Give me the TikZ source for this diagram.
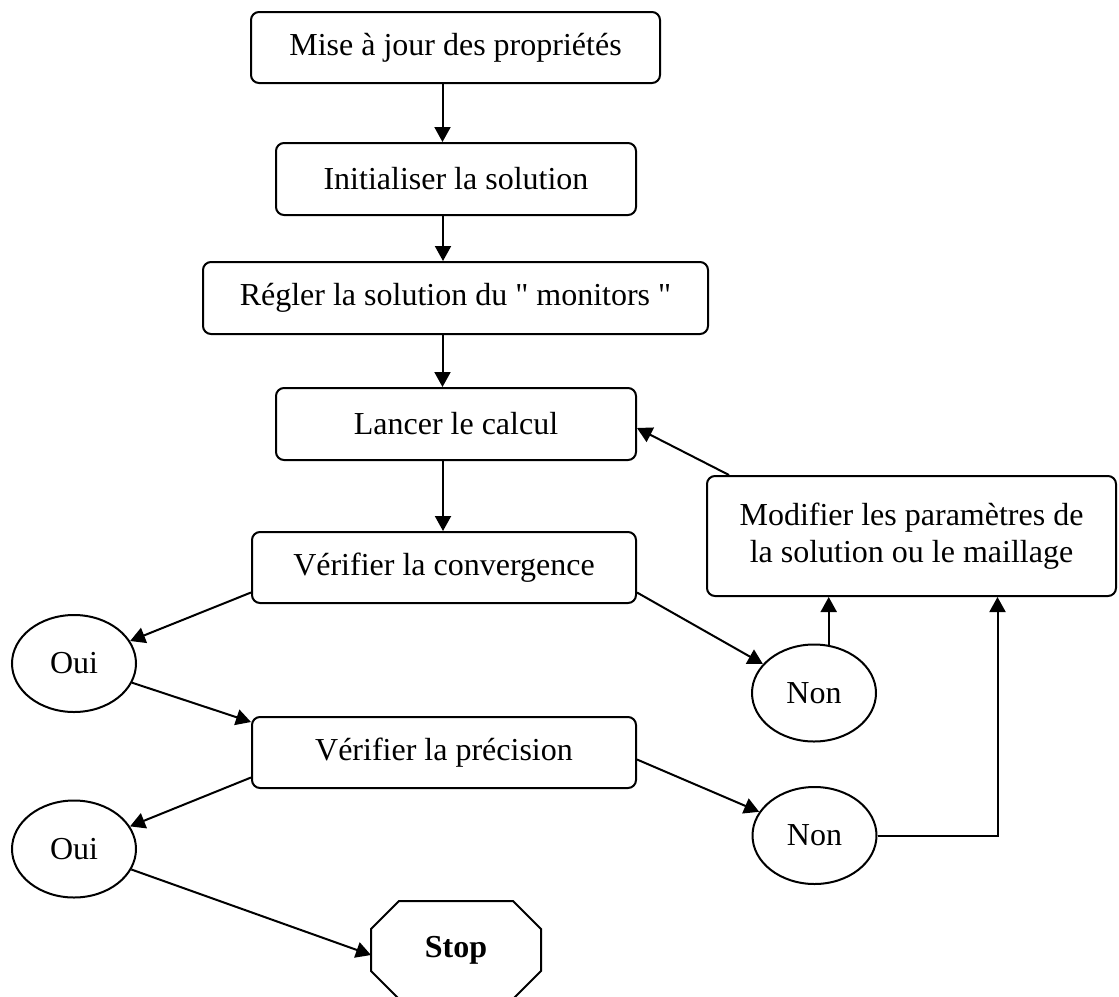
\documentclass[tikz,border=0pt]{standalone}
\usepackage{fontspec}
\setmainfont{Liberation Serif}[Ligatures=TeXOff]
\usetikzlibrary{calc}
\usetikzlibrary{arrows.meta}
\usetikzlibrary{shapes.geometric}
\tikzstyle{box}=[draw, rounded corners=4pt, inner sep=0pt, anchor=center]
\tikzstyle{choice}=[draw, ellipse, inner sep=0pt, anchor=center, minimum width=62pt, minimum height=48.5pt]
\tikzstyle{flow}=[-{Triangle[length=7.5pt,width=8pt]}]

\begin{document}
\begin{tikzpicture}[x=0.5pt, y=-0.5pt, line width=1pt, font=\fontsize{16}{18.5}\selectfont]
		\useasboundingbox (0, 0) rectangle (1119, 996);
		\node(b1)[box, minimum width=204.5pt, minimum height=35.5pt] at (455.5, 47.5) {Mise à jour des propriétés};
		\node(b2)[box, minimum width=180pt, minimum height=36pt] at (456, 179) {Initialiser la solution};
		\node(b3)[box, minimum width=252.5pt, minimum height=36pt] at (455.5, 298) {Régler la solution du " monitors "};
		\node(b4)[box, minimum width=180pt, minimum height=36pt] at (456, 424) {Lancer le calcul};
		%%%%%%%
		\node(b5)[box, minimum width=192pt, minimum height=35.5pt] at (444, 567.5) {Vérifier la convergence};
		\node(b6)[box, minimum width=192pt, minimum height=35.5pt] at (444, 752.5) {Vérifier la précision};
		\node(modif)[box, align=center, minimum width=204.5pt, minimum height=60pt] at (911.5, 536) {Modifier les paramètres de\\la solution ou le maillage};
		%%%%%%%
		\node(oui1)[choice] at (74, 663.5) {Oui};
		\node(oui2)[choice] at (74, 849) {Oui};
		\node(non1)[choice] at (814, 693) {Non};
		\node(non2)[choice] at (814.5, 835.5) {Non};
		%%%%%%%
		\node(stop)[inner sep=0pt, minimum width=84pt, minimum height=48pt] at (456, 950) {\textbf{Stop}};
		\draw ($(stop.north west)+(14pt,0)$) -- ($(stop.north east)+(-14pt,0)$) -- ($(stop.north east)+(0,-14pt)$) -- ($(stop.south east)+(0,14pt)$) -- ($(stop.south east)+(-14pt,0)$) -- ($(stop.south west)+(14pt,0)$) -- ($(stop.south west)+(0,14pt)$) -- ($(stop.north west)+(0,-14pt)$) -- cycle;
		%%%%%%%
		\draw[flow] ([xshift=-6.5pt]b1.south) -- ([xshift=-6.5pt]b1.south |- b2.north);
		\draw[flow] ([xshift=-6.5pt]b2.south) -- ([xshift=-6.5pt]b2.south |- b3.north);
		\draw[flow] ([xshift=-6.5pt]b3.south) -- ([xshift=-6.5pt]b3.south |- b4.north);
		\draw[flow] ([xshift=-6.5pt]b4.south) -- ([xshift=-6.5pt]b4.south |- b5.north);
		%%%%%%%
		\draw[flow] ([yshift=-12.5pt]b5.west) -- (oui1);
		\draw[flow] (oui1) -- ([yshift=-3pt]b6.north west);
		\draw[flow] ([yshift=-12.5pt]b6.west) -- (oui2);
		\draw[flow] (oui2) -- ([yshift=-2.5pt]stop.west);
		%%%%%%%
		\draw[flow] ([yshift=-12.5pt]b5.east) -- (non1);
		\draw[flow] ([yshift=-3.5pt]b6.east) -- (non2);
		\draw[flow] (non1.73) -- (non1.73 |- modif.south);
		\draw[flow] (non2.east) -| ([xshift=43pt]modif.south);
		\draw[flow] ([xshift=11.5pt]modif.north west) -- ([yshift=-2pt]b4.east);
		\end{tikzpicture}
\end{document}
